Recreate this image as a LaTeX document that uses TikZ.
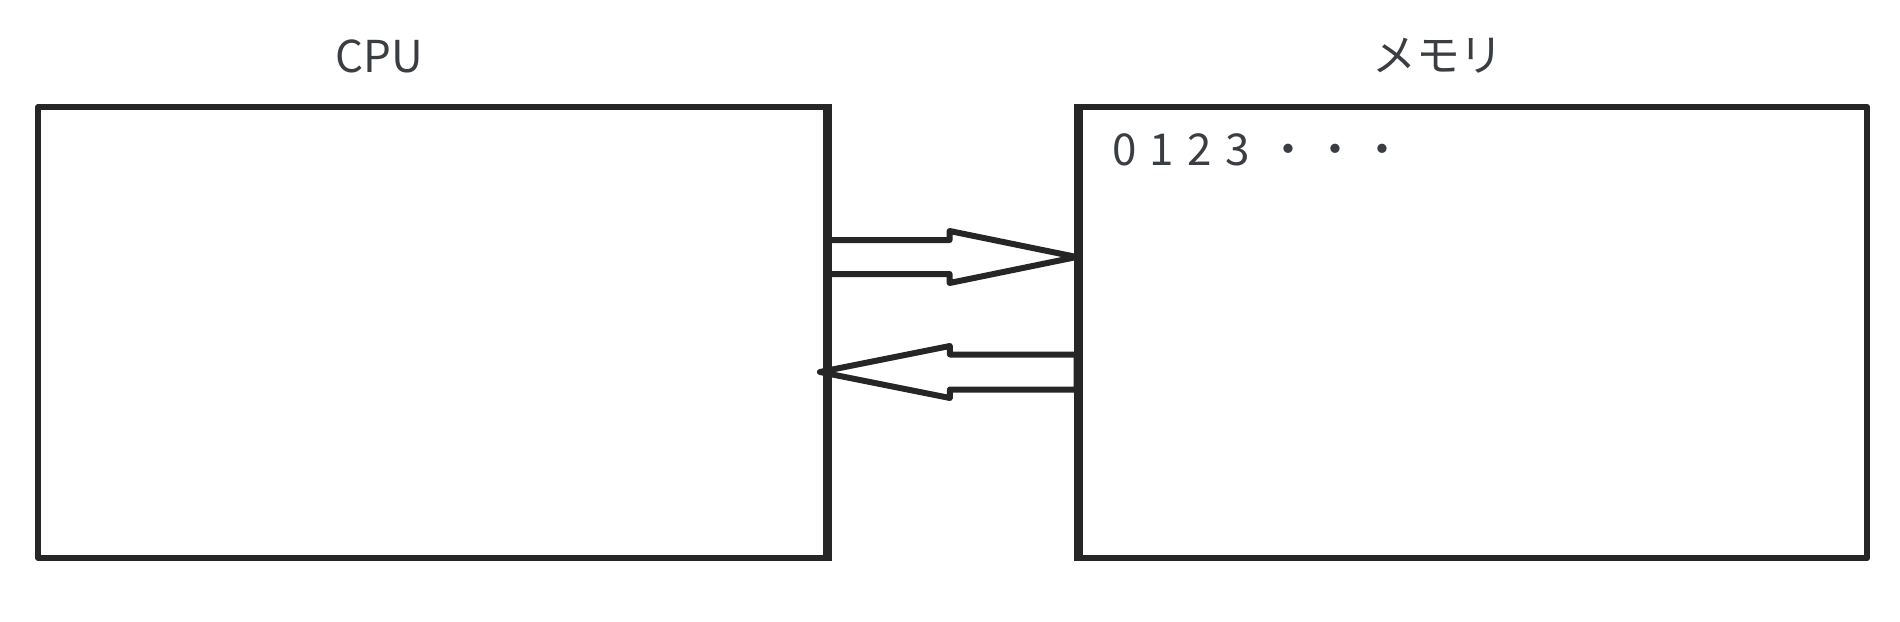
\documentclass[tikz,border=0pt]{standalone}
\usepackage{fontspec}
\setmainfont{Noto Sans CJK JP}
\usetikzlibrary{calc}
\definecolor{linegray}{HTML}{262626}
\definecolor{textgray}{HTML}{3A3D41}
\begin{document}
\begin{tikzpicture}[x=0.02cm, y=-0.02cm, line join=round,
  box_style/.style={draw=linegray, line width=0.12cm, minimum width=15.76cm, minimum height=9.02cm, inner sep=0},
  label_style/.style={text=textgray, inner sep=0, font=\fontsize{25}{30}\selectfont},
  arrow_style/.style={draw=linegray, line width=0.12cm, fill=white}]
      \useasboundingbox (0,0) rectangle (1900,622);
      \draw
        (432,332.5) node[box_style] (cpu){}
        (1473.5,332.5) node[box_style] (mem){}
        (379,56) node[label_style] (cpu_label){CPU}
        (1438,56) node[label_style] (mem_label){メモリ}
        (1112,150) node[label_style, anchor=west] (addr){0\hspace{0.3em}1\hspace{0.3em}2\hspace{0.3em}3\hspace{0.4em}・\hspace{0.06em}・\hspace{0.06em}・};
      \path (cpu.east |- 0,257) coordinate (req_start) (mem.west |- 0,257) coordinate (req_end);
      \path (mem.west |- 0,372) coordinate (resp_start) ($(cpu.east |- 0,372)+(-9,0)$) coordinate (resp_end);
      \begin{scope}
        \draw[arrow_style] ($(req_start)+(0,-17)$) -- ($(req_end)+(-127,-17)$) -- ($(req_end)+(-127,-26)$) -- (req_end)
          -- ($(req_end)+(-127,26)$) -- ($(req_end)+(-127,17)$) -- ($(req_start)+(0,17)$) -- cycle;
        \draw[arrow_style] ($(resp_start)+(0,-17.5)$) -- ($(resp_end)+(130,-17.5)$) -- ($(resp_end)+(130,-26)$) -- (resp_end)
          -- ($(resp_end)+(130,26)$) -- ($(resp_end)+(130,17.5)$) -- ($(resp_start)+(0,17.5)$) -- cycle;
      \end{scope}
      \draw[draw=linegray, line width=0.12cm] (cpu.north east) -- (cpu.south east) (mem.north west) -- (mem.south west);
    \end{tikzpicture}
\end{document}
